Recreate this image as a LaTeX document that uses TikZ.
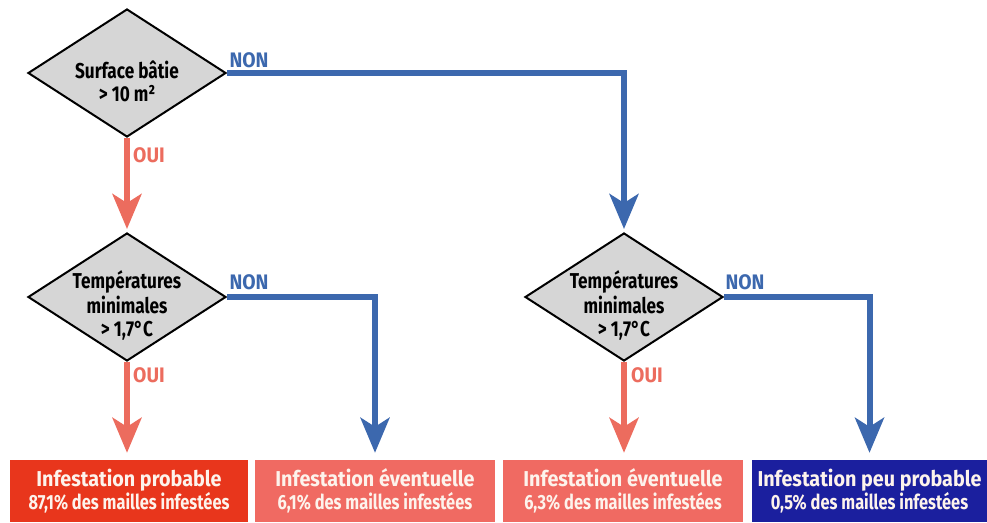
\documentclass[tikz,border=0pt]{standalone}
\usepackage{fontspec}
\setmainfont{Fira Sans}
\newfontfamily\condf[FakeStretch=0.8]{Fira Sans}
\newfontfamily\semif[FakeStretch=0.92]{Fira Sans}
\usetikzlibrary{shapes.geometric,arrows.meta}
\definecolor{redbox}{HTML}{E8361C}
\definecolor{salmonbox}{HTML}{F06A62}
\definecolor{darkbluebox}{HTML}{1B1F9E}
\definecolor{bluelink}{HTML}{3C68AE}
\definecolor{redlink}{HTML}{EC6C5E}
\definecolor{diamondgray}{HTML}{D6D6D6}
\definecolor{boxtext}{HTML}{FDF3EC}
\newcommand{\dtext}[2]{\raisebox{#1}[0pt][0pt]{\begin{tabular}{@{}c@{}}#2\end{tabular}}}
\begin{document}
\begin{tikzpicture}[x=1pt,y=-1pt,
  decision/.style={diamond, aspect=1.55, draw=black, line width=2pt, fill=diamondgray,
    minimum width=198pt, minimum height=128pt, inner sep=0pt,
    font=\condf\bfseries\fontsize{21.5}{23}\selectfont},
  resultbox/.style={rectangle, minimum height=62pt, inner sep=0pt, align=center,
    text=boxtext, font=\fontsize{20}{23}\selectfont},
  redarrow/.style={draw=redlink, line width=6pt,
    -{Stealth[length=35pt, width=29pt, inset=9pt]}},
  bluearrow/.style={draw=bluelink, line width=6pt,
    -{Stealth[length=35pt, width=29pt, inset=9pt]}},
  nonlabel/.style={text=bluelink, font=\semif\bfseries\fontsize{21}{24}\selectfont, inner sep=0pt},
  ouilabel/.style={text=redlink, font=\semif\bfseries\fontsize{21}{24}\selectfont, inner sep=0pt},
]
\useasboundingbox (0,0) rectangle (987,522);

\node[decision] (d1) at (127,73) {\dtext{-17pt}{Surface bâtie\\> 10 m²}};
\node[decision] (d2) at (127,297) {\dtext{-15pt}{Températures\\minimales\\> 1,7°C}};
\node[decision] (d3) at (624,297) {\dtext{-15pt}{Températures\\minimales\\> 1,7°C}};

\newcommand{\boxlines}[2]{{\semif\bfseries\fontsize{21.5}{23}\selectfont #1}\\{\condf\bfseries\fontsize{20.5}{23}\selectfont #2}}

\node[resultbox, fill=redbox, minimum width=238pt] (b1) at (129,491)
  {\boxlines{Infestation probable}{87,1\% des mailles infestées}};
\node[resultbox, fill=salmonbox, minimum width=240pt] (b2) at (375,491)
  {\boxlines{Infestation éventuelle}{6,1\% des mailles infestées}};
\node[resultbox, fill=salmonbox, minimum width=240pt] (b3) at (623,491)
  {\boxlines{Infestation éventuelle}{6,3\% des mailles infestées}};
\node[resultbox, fill=darkbluebox, minimum width=235pt] (b4) at (869.5,491)
  {\boxlines{Infestation peu probable}{0,5\% des mailles infestées}};

\draw[redarrow, shorten >=3pt] (d1.south) -- (d2.north);
\draw[bluearrow, shorten >=3pt] (d1.east) -| (d3.north);
\draw[bluearrow, shorten >=7pt] (d2.east) -| (b2.north);
\draw[redarrow, shorten >=7pt] (d2.south) -- (d2.south |- b1.north);
\draw[redarrow, shorten >=7pt] (d3.south) -- (d3.south |- b3.north);
\draw[bluearrow, shorten >=7pt] (d3.east) -| (b4.north);

\node[nonlabel] (n1) at (249,60) {NON};
\node[ouilabel] (o1) at (149,155) {OUI};
\node[nonlabel] (n2) at (249,282) {NON};
\node[ouilabel] (o2) at (149,375) {OUI};
\node[nonlabel] (n3) at (745,282) {NON};
\node[ouilabel] (o3) at (647,375) {OUI};
\end{tikzpicture}
\end{document}
